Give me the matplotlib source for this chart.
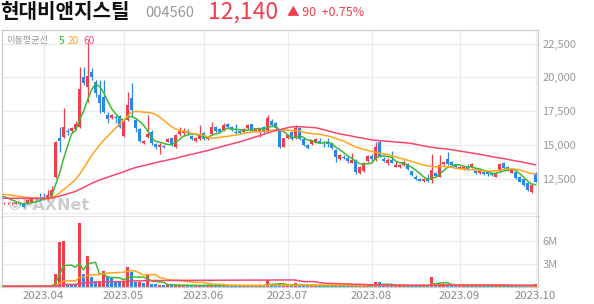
import numpy as np
import pandas as pd
import matplotlib
matplotlib.use('Agg')
import matplotlib.pyplot as plt

plt.rcParams['font.family'] = ['Noto Sans CJK KR', 'DejaVu Sans']

# header texts
stock_name = '현대비앤지스틸'
stock_code = '004560'
last_price = '12,140'
change_text = '▲ 90  +0.75%'
ma_title = '이동평균선'
ma_periods = [5, 20, 60]

# KRX trading calendar, 2023-03-20 .. 2023-10-04
holidays = ['2023-05-01', '2023-05-05', '2023-05-29', '2023-06-06', '2023-08-15',
            '2023-09-28', '2023-09-29', '2023-10-02', '2023-10-03']
dates = pd.bdate_range('2023-03-20', '2023-10-04')
dates = dates[~dates.isin(pd.to_datetime(holidays))]

opens = [10700, 10700, 10700, 10680, 10720, 10660, 10740, 10810, 11100, 11140,
         11180, 11030, 11250, 12680, 15500, 15630, 16050, 16070, 16170, 16360,
         20050, 19310, 20420, 19680, 18700, 18580, 17230, 16980, 17100, 17150,
         15680, 16860, 18460, 16860, 16200, 15140, 15630, 15990, 15070, 14890,
         14960, 15260, 15510, 14890, 15830, 15920, 16070, 15680, 15310, 15440,
         15880, 15440, 15830, 16320, 16170, 16120, 16540, 16320, 16000, 16070,
         16000, 16250, 16540, 16000, 16000, 16360, 16000, 16800, 16610, 16120,
         14890, 15510, 16000, 15510, 16250, 15430, 15010, 15090, 15260, 15330,
         15260, 15190, 15180, 14650, 13980, 14150, 14030, 13710, 13860, 12970,
         13120, 13830, 14200, 13910, 15260, 13980, 13710, 13910, 13420, 13420,
         13540, 13610, 13120, 12680, 12490, 12370, 12580, 12430, 12930, 12680,
         13610, 13960, 13780, 13540, 13300, 13220, 13410, 13370, 13120, 12930,
         13050, 13000, 12930, 12680, 13120, 13660, 13410, 12980, 13050, 12680,
         12490, 12230, 11570, 12970]
highs = [10800, 10800, 10780, 10780, 10760, 10700, 11000, 11100, 11150, 11500,
         11510, 11660, 11990, 15300, 16360, 17720, 16250, 16350, 16780, 20790,
         20790, 22510, 20690, 19810, 19810, 19810, 17470, 17300, 17230, 17250,
         16900, 18900, 19570, 17000, 16300, 15400, 17230, 16120, 15140, 15140,
         15050, 15500, 15600, 15800, 16320, 16250, 16170, 15750, 15630, 16490,
         15950, 15680, 16730, 16400, 16250, 16620, 16620, 16400, 16560, 16120,
         16300, 16560, 16600, 16280, 16200, 16420, 17230, 16900, 16700, 16200,
         15550, 15850, 16050, 16490, 16300, 15500, 15070, 15400, 15500, 15510,
         15300, 15510, 15260, 14720, 14350, 14250, 14200, 14400, 13950, 13450,
         13780, 14280, 14350, 15260, 15380, 14100, 14030, 14590, 13860, 13600,
         13910, 13700, 13200, 12800, 12560, 12560, 12880, 14350, 13000, 14280,
         13860, 14520, 13860, 13600, 13480, 13420, 13610, 13710, 13200, 13170,
         13120, 13060, 13000, 13000, 13680, 13780, 13480, 13220, 13120, 12750,
         12560, 12300, 12100, 13050]
lows = [10650, 10650, 10650, 10640, 10600, 10440, 10700, 10780, 10980, 10990,
        10980, 10990, 11200, 12600, 14520, 15530, 15750, 15980, 16100, 16300,
        19440, 18210, 19800, 18580, 17400, 17380, 16610, 16900, 16610, 16300,
        15600, 16800, 17100, 16000, 15200, 15080, 15560, 15010, 14700, 14350,
        14780, 15200, 14950, 14800, 15680, 15680, 15750, 15380, 15260, 15380,
        15380, 15380, 15750, 16000, 15950, 16070, 16300, 16050, 15800, 15800,
        15950, 16200, 16000, 15950, 15630, 15880, 15950, 16400, 16200, 14800,
        14850, 15450, 15380, 15450, 15380, 14950, 14700, 15040, 15200, 15140,
        14890, 14890, 14700, 13780, 13900, 13950, 13660, 13660, 12880, 12900,
        13050, 13780, 13780, 13850, 14150, 13780, 13540, 13650, 13400, 13350,
        13480, 13150, 12750, 12420, 12340, 12300, 12300, 12230, 12680, 12620,
        13560, 13540, 13480, 13300, 13250, 13170, 13150, 13300, 12870, 12870,
        12820, 12760, 12730, 12620, 13050, 13250, 13120, 12930, 12500, 12250,
        12000, 11650, 11500, 12250]
closes = [10750, 10750, 10740, 10740, 10650, 10470, 10950, 11030, 11000, 11030,
          11030, 11330, 11700, 15250, 15330, 16360, 15940, 16250, 16560, 19120,
          19570, 20100, 20050, 18830, 18090, 17470, 16910, 17230, 16980, 16360,
          16710, 17960, 17600, 16250, 15310, 15310, 15830, 15140, 14850, 15010,
          14850, 15430, 15010, 15750, 16070, 16070, 15880, 15440, 15510, 15750,
          15440, 15630, 16320, 16070, 16000, 16490, 16370, 16120, 15880, 15880,
          16220, 16490, 16070, 16250, 16170, 16070, 16980, 16490, 16250, 14890,
          15500, 15750, 15440, 16250, 15440, 15010, 14770, 15330, 15430, 15180,
          15140, 15090, 14770, 14150, 14280, 14030, 13850, 13910, 13050, 13370,
          13710, 14200, 13960, 14890, 14200, 13830, 13910, 13710, 13540, 13540,
          13780, 13220, 12800, 12490, 12380, 12490, 12360, 13170, 12730, 13540,
          13780, 13610, 13540, 13370, 13410, 13370, 13220, 13610, 12930, 13120,
          12880, 12850, 12780, 12930, 13610, 13300, 13170, 13170, 12560, 12310,
          12080, 11700, 12060, 12310]
volumes = [40000, 35000, 30000, 45000, 40000, 60000, 55000, 50000, 45000, 70000,
           60000, 80000, 200000, 1600000, 5900000, 6000000, 300000, 300000, 300000, 8400000,
           1700000, 4000000, 1200000, 700000, 700000, 2000000, 1400000, 1200000, 600000, 600000,
           600000, 2600000, 1900000, 600000, 600000, 500000, 1700000, 300000, 300000, 250000,
           250000, 150000, 180000, 140000, 200000, 160000, 130000, 120000, 150000, 170000,
           140000, 130000, 150000, 160000, 140000, 120000, 130000, 110000, 120000, 100000,
           130000, 120000, 140000, 110000, 100000, 120000, 900000, 200000, 150000, 400000,
           200000, 150000, 120000, 400000, 150000, 130000, 100000, 90000, 100000, 80000,
           90000, 100000, 150000, 120000, 100000, 90000, 100000, 150000, 110000, 100000,
           120000, 130000, 110000, 550000, 550000, 150000, 120000, 130000, 100000, 90000,
           110000, 130000, 120000, 110000, 100000, 90000, 120000, 1200000, 300000, 500000,
           250000, 200000, 150000, 120000, 100000, 100000, 110000, 120000, 110000, 100000,
           90000, 100000, 90000, 100000, 150000, 120000, 100000, 90000, 110000, 120000,
           110000, 130000, 150000, 300000]
# sessions whose volume bar is drawn red / blue in the picture (other bars follow the candle)
volume_red_days = [12, 13, 14, 15, 19, 21, 24, 25, 30, 31, 34, 36, 133]
volume_blue_days = [16, 17, 18, 20, 22, 23, 26, 27, 28, 29, 32, 33, 35]

# closes / volumes of the 60 sessions before the window
warmup_close = [10950, 10900, 10920, 10960, 10880, 10900, 10940, 10970, 10910, 10930,
                10900, 10950, 10980, 10920, 10890, 10930, 10960, 10940, 10900, 10920,
                10950, 10910, 10930, 10970, 10920, 10890, 10940, 10960, 10930, 10900,
                10920, 10950, 10940, 10910, 10930, 10960, 10920, 10900, 10940, 10950,
                11450, 11480, 11500, 11460, 11440, 11480, 11500, 11470, 11450, 11420,
                11400, 11380, 11420, 11360, 11340, 11380, 11350, 11330, 11360, 11320]
warmup_volume = [40000] * 60

up_color = '#f23d4c'
down_color = '#2a87ee'
ma_colors = ['#3cba32', '#ffa520', '#f7486f']

n = len(closes)
x = np.arange(n)
opens, highs, lows, closes = map(np.array, (opens, highs, lows, closes))
vol = np.array(volumes)
colors = np.where(closes >= opens, up_color, down_color)
vol_colors = colors.copy()
vol_colors[volume_red_days] = up_color
vol_colors[volume_blue_days] = down_color

full_close = pd.Series(warmup_close + list(closes))
full_vol = pd.Series(warmup_volume + list(volumes))
price_ma = [full_close.rolling(p).mean().values[60:] for p in ma_periods]
vol_ma = [full_vol.rolling(p).mean().values[60:] for p in ma_periods]

W, H = 594, 304
fig = plt.figure(figsize=(W / 100, H / 100), dpi=100)
fig.patch.set_facecolor('white')
ax = fig.add_axes([1.5 / W, (H - 217) / H, 536 / W, 187 / H])
axv = fig.add_axes([1.5 / W, (H - 286.5) / H, 536 / W, 69.5 / H])

month_idx = [np.argmax(dates >= pd.Timestamp(m)) for m in
             ['2023-04-01', '2023-05-01', '2023-06-01', '2023-07-01',
              '2023-08-01', '2023-09-01', '2023-10-01']]
month_lbl = [dates[i].strftime('%Y.%m') for i in month_idx]

grid_c = '#ececec'
for a in (ax, axv):
    a.set_xlim(-0.5, n - 0.5)
    for i in month_idx:
        a.axvline(i, color=grid_c, lw=0.9, zorder=0)
    for s in a.spines.values():
        s.set_color('#cccccc')
        s.set_linewidth(0.9)
    a.tick_params(axis='both', length=0)
    a.yaxis.tick_right()

# price panel
ax.set_ylim(9704, 23496)
price_ticks = [10000, 12500, 15000, 17500, 20000, 22500]
for t in price_ticks:
    ax.axhline(t, color=grid_c, lw=0.9, zorder=0)
ax.set_yticks(price_ticks[1:])
ax.set_yticklabels(['{:,}'.format(t) for t in price_ticks[1:]])
ax.set_xticks([])
ax.spines['bottom'].set_color('#333333')

ax.vlines(x, lows, highs, color=colors, lw=0.9, zorder=2)
body = np.maximum(np.abs(closes - opens), 40)
ax.bar(x, body, bottom=np.minimum(opens, closes), width=0.72, color=colors,
       linewidth=0, zorder=3)
for m, c in zip(price_ma, ma_colors):
    ax.plot(x, m, color=c, lw=1.1, zorder=4)

# watermark at the bottom left of the price panel
ax.text(5 / 536, 3.5 / 187, '©PAXNet', transform=ax.transAxes, fontsize=11.5,
        fontweight='bold', color='#cdcdcd', va='bottom', ha='left',
        family=['DejaVu Sans'], zorder=1)

# moving average legend
fig.text(6 / W, 1 - 41 / H, ma_title, fontsize=6.6, color='#999999', va='center')
for p, c, px in zip(ma_periods, ma_colors, [59, 68, 83]):
    fig.text(px / W, 1 - 41 / H, str(p), fontsize=7.3, color=c, va='center')

# volume panel
axv.set_ylim(0, 9.2e6)
vol_ticks = [3e6, 6e6]
for t in vol_ticks:
    axv.axhline(t, color=grid_c, lw=0.9, zorder=0)
axv.set_yticks(vol_ticks)
axv.set_yticklabels(['3M', '6M'])
axv.spines['top'].set_visible(False)
axv.bar(x, vol, width=0.72, color=vol_colors, linewidth=0, zorder=2)
for m, c in zip(vol_ma, ma_colors):
    axv.plot(x, m, color=c, lw=1.1, zorder=3)
axv.set_xticks(month_idx)
axv.set_xticklabels(month_lbl)

for a in (ax, axv):
    a.tick_params(axis='y', labelsize=8, labelcolor='#999999', pad=3.5)
axv.tick_params(axis='x', labelsize=8.2, labelcolor='#888888', pad=3)

# header
fig.text(0 / W, 1 - 12 / H, stock_name, fontsize=14.5, fontweight='bold',
         color='#111111', va='center', ha='left')
fig.text(145 / W, 1 - 13 / H, stock_code, fontsize=10.5, color='#999999',
         va='center', ha='left')
fig.text(208 / W, 1 - 12 / H, last_price, fontsize=16.5, color=up_color,
         va='center', ha='left')
fig.text(287 / W, 1 - 13 / H, change_text, fontsize=9, color=up_color,
         va='center', ha='left')

fig.savefig('out.png', dpi=100, facecolor='white')
